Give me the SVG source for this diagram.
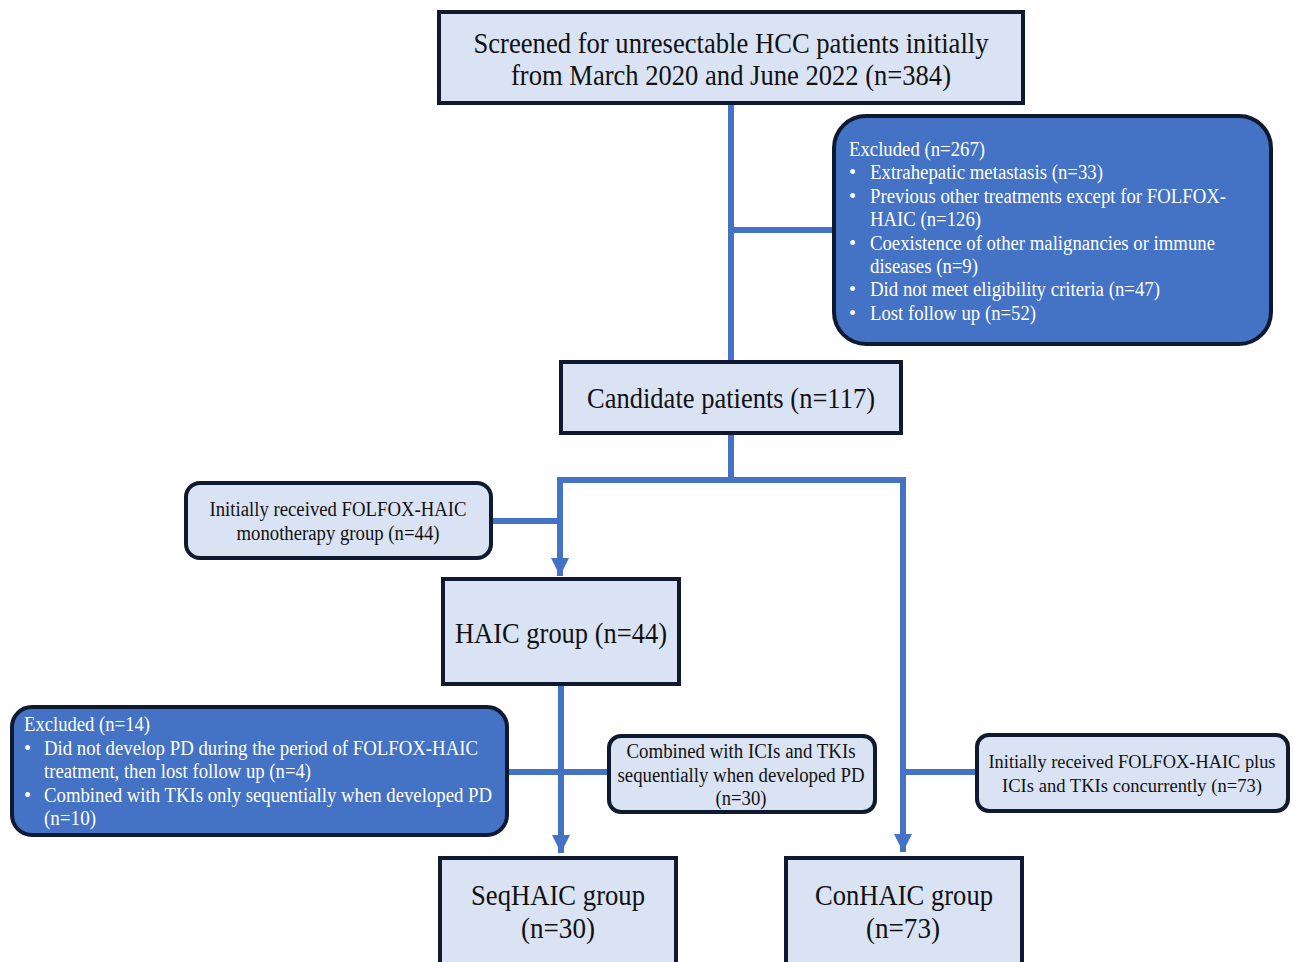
<svg xmlns="http://www.w3.org/2000/svg" width="1293" height="962" viewBox="0 0 1293 962">
<style>
.box{fill:#dae3f3;stroke:#0f1a30;stroke-width:4}
.blue{fill:#4472c4;stroke:#0f1a30;stroke-width:4}
.t{font-family:"Liberation Serif","Times New Roman",serif;fill:#111}
.w{font-family:"Liberation Serif","Times New Roman",serif;fill:#fff;font-size:20px}
.big{font-size:28.5px}
.sm{font-size:20px}
.xs{font-size:18.5px}
.ln{stroke:#4472c4;stroke-width:6;fill:none}
</style>
<defs>
<marker id="ah" viewBox="0 0 10 10" refX="10" refY="5" markerWidth="3" markerHeight="3" orient="auto" markerUnits="strokeWidth">
<path d="M0,0 L10,5 L0,10 z" fill="#4472c4"/>
</marker>
</defs>
<rect width="1293" height="962" fill="#fff"/>
<g id="connectors">
<path class="ln" d="M731,103 V361"/>
<path class="ln" d="M731,230 H834"/>
<path class="ln" d="M731,434 V480"/>
<path class="ln" d="M557,480 H906"/>
<path class="ln" d="M560,480 V576" marker-end="url(#ah)"/>
<path class="ln" d="M491,521 H560"/>
<path class="ln" d="M903,480 V852" marker-end="url(#ah)"/>
<path class="ln" d="M561,685 V853" marker-end="url(#ah)"/>
<path class="ln" d="M507,772 H609"/>
<path class="ln" d="M903,772 H977"/>
</g>
<g id="screened">
<rect class="box" x="439" y="12" width="584" height="91"/>
<text class="t big" x="731" y="53" text-anchor="middle" textLength="515" lengthAdjust="spacingAndGlyphs">Screened for unresectable HCC patients initially</text>
<text class="t big" x="731" y="85" text-anchor="middle" textLength="440" lengthAdjust="spacingAndGlyphs">from March 2020 and June 2022 (n=384)</text>
</g>
<g id="excluded267">
<rect class="blue" x="834" y="116" width="437" height="228" rx="32"/>
<text class="w" x="849" y="156" textLength="136" lengthAdjust="spacingAndGlyphs">Excluded (n=267)</text>
<text class="w" x="849" y="179">•</text><text class="w" x="870" y="179" textLength="233" lengthAdjust="spacingAndGlyphs">Extrahepatic metastasis (n=33)</text>
<text class="w" x="849" y="203">•</text><text class="w" x="870" y="203" textLength="356" lengthAdjust="spacingAndGlyphs">Previous other treatments except for FOLFOX-</text>
<text class="w" x="870" y="226" textLength="111" lengthAdjust="spacingAndGlyphs">HAIC (n=126)</text>
<text class="w" x="849" y="250">•</text><text class="w" x="870" y="250" textLength="345" lengthAdjust="spacingAndGlyphs">Coexistence of other malignancies or immune</text>
<text class="w" x="870" y="273" textLength="108" lengthAdjust="spacingAndGlyphs">diseases (n=9)</text>
<text class="w" x="849" y="296">•</text><text class="w" x="870" y="296" textLength="290" lengthAdjust="spacingAndGlyphs">Did not meet eligibility criteria (n=47)</text>
<text class="w" x="849" y="320">•</text><text class="w" x="870" y="320" textLength="166" lengthAdjust="spacingAndGlyphs">Lost follow up (n=52)</text>
</g>
<g id="candidate">
<rect class="box" x="561" y="362" width="340" height="71"/>
<text class="t big" x="731" y="408" text-anchor="middle" textLength="288" lengthAdjust="spacingAndGlyphs">Candidate patients (n=117)</text>
</g>
<g id="monotherapy">
<rect class="box" x="186" y="483" width="305" height="75" rx="14"/>
<text class="t sm" x="338" y="516" text-anchor="middle" textLength="257" lengthAdjust="spacingAndGlyphs">Initially received FOLFOX-HAIC</text>
<text class="t sm" x="338" y="540" text-anchor="middle" textLength="203" lengthAdjust="spacingAndGlyphs">monotherapy group (n=44)</text>
</g>
<g id="haic">
<rect class="box" x="443" y="579" width="236" height="105"/>
<text class="t big" x="561" y="643" text-anchor="middle" textLength="212" lengthAdjust="spacingAndGlyphs">HAIC group (n=44)</text>
</g>
<g id="excluded14">
<rect class="blue" x="12" y="707" width="495" height="128" rx="20"/>
<text class="w" x="24" y="731" textLength="126" lengthAdjust="spacingAndGlyphs">Excluded (n=14)</text>
<text class="w" x="24" y="755">•</text><text class="w" x="44" y="755" textLength="434" lengthAdjust="spacingAndGlyphs">Did not develop PD during the period of FOLFOX-HAIC</text>
<text class="w" x="44" y="778" textLength="267" lengthAdjust="spacingAndGlyphs">treatment, then lost follow up (n=4)</text>
<text class="w" x="24" y="802">•</text><text class="w" x="44" y="802" textLength="448" lengthAdjust="spacingAndGlyphs">Combined with TKIs only sequentially when developed PD</text>
<text class="w" x="44" y="825" textLength="52" lengthAdjust="spacingAndGlyphs">(n=10)</text>
</g>
<g id="combined">
<rect class="box" x="609" y="736" width="266" height="76" rx="12"/>
<text class="t sm" x="741" y="758" text-anchor="middle" textLength="229" lengthAdjust="spacingAndGlyphs">Combined with ICIs and TKIs</text>
<text class="t sm" x="741" y="782" text-anchor="middle" textLength="247" lengthAdjust="spacingAndGlyphs">sequentially when developed PD</text>
<text class="t sm" x="741" y="805" text-anchor="middle" textLength="51" lengthAdjust="spacingAndGlyphs">(n=30)</text>
</g>
<g id="concurrent">
<rect class="box" x="977" y="735" width="311" height="76" rx="12"/>
<text class="t xs" x="1132" y="768" text-anchor="middle" textLength="287" lengthAdjust="spacingAndGlyphs">Initially received FOLFOX-HAIC plus</text>
<text class="t xs" x="1132" y="792" text-anchor="middle" textLength="260" lengthAdjust="spacingAndGlyphs">ICIs and TKIs concurrently (n=73)</text>
</g>
<g id="seqhaic">
<rect class="box" x="440" y="858" width="236" height="110"/>
<text class="t big" x="558" y="905" text-anchor="middle" textLength="174" lengthAdjust="spacingAndGlyphs">SeqHAIC group</text>
<text class="t big" x="558" y="938" text-anchor="middle" textLength="74" lengthAdjust="spacingAndGlyphs">(n=30)</text>
</g>
<g id="conhaic">
<rect class="box" x="786" y="858" width="236" height="110"/>
<text class="t big" x="904" y="905" text-anchor="middle" textLength="178" lengthAdjust="spacingAndGlyphs">ConHAIC group</text>
<text class="t big" x="903" y="938" text-anchor="middle" textLength="74" lengthAdjust="spacingAndGlyphs">(n=73)</text>
</g>
</svg>
